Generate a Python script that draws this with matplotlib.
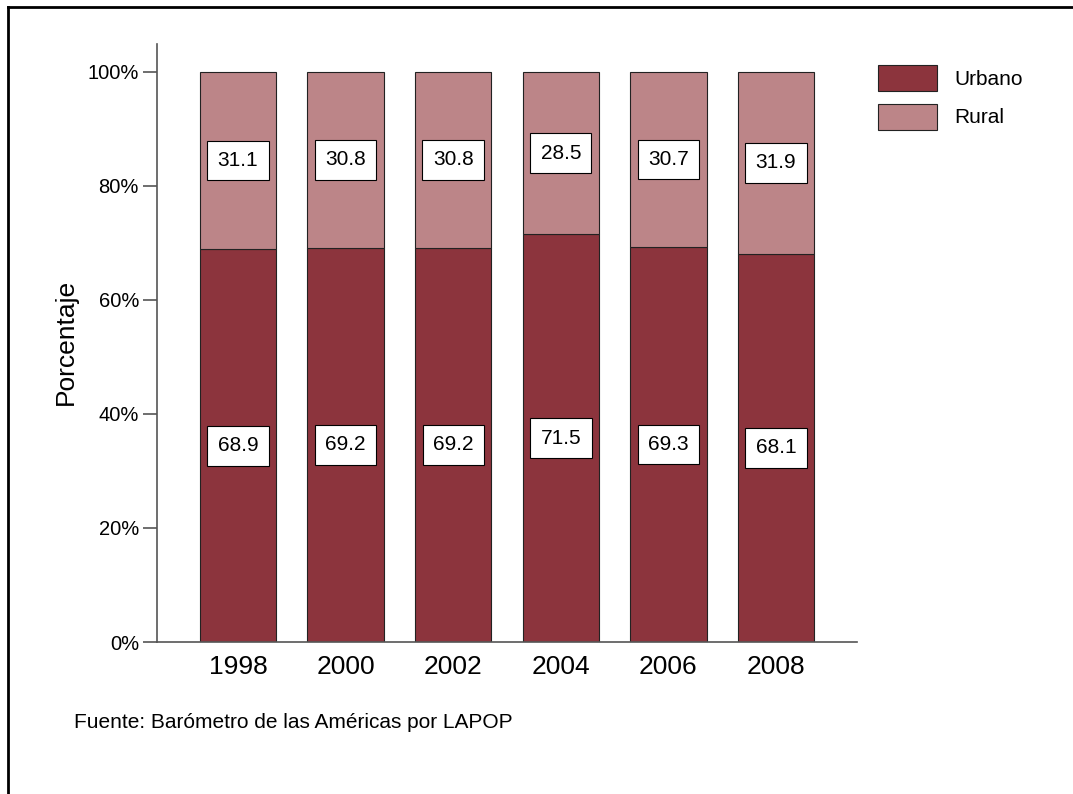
import matplotlib
matplotlib.use("Agg")
import matplotlib.pyplot as plt
from matplotlib.lines import Line2D
from matplotlib.ticker import FuncFormatter

plt.rcParams['font.family'] = ['Liberation Sans', 'DejaVu Sans']

years = ["1998", "2000", "2002", "2004", "2006", "2008"]
urbano = [68.9, 69.2, 69.2, 71.5, 69.3, 68.1]
rural = [31.1, 30.8, 30.8, 28.5, 30.7, 31.9]
series_names = ["Urbano", "Rural"]
colors = ["#8C343D", "#BC8588"]
yticks = [0, 20, 40, 60, 80, 100]

fig = plt.figure(figsize=(10.73, 7.94), dpi=100)
ax = fig.add_axes([157/1073, 1-642/794, 700/1073, (642-44)/794])

x = list(range(len(years)))
w = 0.71
b1 = ax.bar(x, urbano, width=w, color=colors[0], edgecolor="#222222", linewidth=0.8, label=series_names[0], zorder=2)
b2 = ax.bar(x, rural, width=w, bottom=urbano, color=colors[1], edgecolor="#222222", linewidth=0.8, label=series_names[1], zorder=2)

box = dict(boxstyle="square,pad=0.5", facecolor="white", edgecolor="black", linewidth=0.8)
for xi, u, r in zip(x, urbano, rural):
    ax.text(xi, u/2, f"{u:.1f}", ha="center", va="center", fontsize=15, bbox=box, zorder=3)
    ax.text(xi, u + r/2, f"{r:.1f}", ha="center", va="center", fontsize=15, bbox=box, zorder=3)

ax.set_xlim(-0.753, 5.753)
ax.set_ylim(0, 104.9)
ax.set_yticks(yticks)
ax.yaxis.set_major_formatter(FuncFormatter(lambda v, p: f"{int(v)}%"))
ax.set_xticks(x)
ax.set_xticklabels(years, fontsize=19)
ax.tick_params(axis="x", length=0, pad=9)
ax.tick_params(axis="y", length=10, width=1.2, color="#555555", labelsize=14.5, pad=3)
for s in ["top", "right"]:
    ax.spines[s].set_visible(False)
for s in ["left", "bottom"]:
    ax.spines[s].set_color("#555555")
    ax.spines[s].set_linewidth(1.2)
ax.set_ylabel("Porcentaje", fontsize=19)
ax.yaxis.set_label_coords(-79/700, (642-342)/598)

leg = fig.legend(handles=[b1, b2], labels=series_names, loc="upper left",
                 bbox_to_anchor=(878/1073, 1-65/794), frameon=False, fontsize=15,
                 handlelength=2.85, handleheight=1.55, handletextpad=0.8, labelspacing=0.6,
                 borderaxespad=0, borderpad=0)

fig.text(74/1073, 1-722/794, "Fuente: Barómetro de las Américas por LAPOP", fontsize=15, va="center", ha="left")

# figure border lines (left & top)
fig.add_artist(Line2D([8/1073, 8/1073], [0, 1-7/794], transform=fig.transFigure, color="black", linewidth=2))
fig.add_artist(Line2D([8/1073, 1], [1-7/794, 1-7/794], transform=fig.transFigure, color="black", linewidth=2))

fig.savefig("out.png", dpi=100)
